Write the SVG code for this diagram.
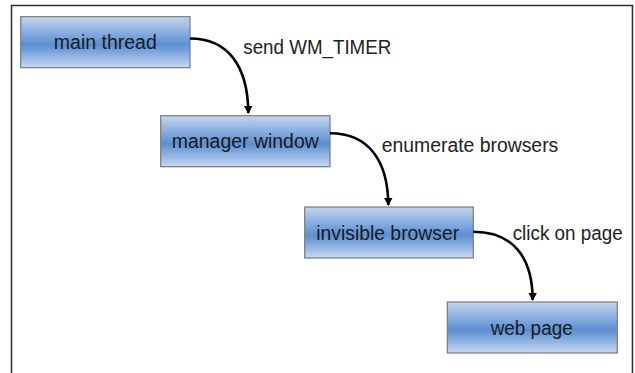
<svg xmlns="http://www.w3.org/2000/svg" width="635" height="373" viewBox="0 0 635 373">
  <defs>
    <linearGradient id="boxFill" x1="0" y1="0" x2="0" y2="1">
      <stop offset="0" stop-color="#c3d5ef"/>
      <stop offset="0.55" stop-color="#5b8fd3"/>
      <stop offset="1" stop-color="#c6d8f0"/>
    </linearGradient>
    <marker id="head" markerWidth="10" markerHeight="10" refX="7" refY="5" orient="auto" markerUnits="userSpaceOnUse">
      <path d="M0,0.8 L8,5 L0,9.2 Z" fill="#000"/>
    </marker>
    <style>
      .box { fill: url(#boxFill); stroke: #7a7a7a; stroke-width: 1.2; }
      .label { font-family: "Liberation Sans", Arial, sans-serif; font-size: 20px; fill: #222; }
      .node { font-family: "Liberation Sans", Arial, sans-serif; font-size: 20px; fill: #1a1a1a; text-anchor: middle; }
      .conn { fill: none; stroke: #000; stroke-width: 2.6; marker-end: url(#head); }
    </style>
  </defs>

  <rect width="635" height="373" fill="#fff"/>
  <!-- outer frame, open at the bottom -->
  <path d="M11.5,373 V5.5 H632.5 V373" fill="none" stroke="#333" stroke-width="1.6"/>

  <g id="main-thread">
    <rect class="box" x="20.7" y="16.7" width="169.3" height="51"/>
    <text class="node" x="105.3" y="49.3" textLength="103" lengthAdjust="spacingAndGlyphs">main thread</text>
  </g>

  <g id="manager-window">
    <rect class="box" x="160.7" y="115.7" width="169.3" height="51"/>
    <text class="node" x="245.3" y="148.3" textLength="147" lengthAdjust="spacingAndGlyphs">manager window</text>
  </g>

  <g id="invisible-browser">
    <rect class="box" x="304.7" y="207" width="168.6" height="51"/>
    <text class="node" x="387.7" y="240" textLength="143" lengthAdjust="spacingAndGlyphs">invisible browser</text>
  </g>

  <g id="web-page">
    <rect class="box" x="447.3" y="302" width="170" height="51"/>
    <text class="node" x="531.7" y="335" textLength="82" lengthAdjust="spacingAndGlyphs">web page</text>
  </g>

  <g id="connectors">
    <path class="conn" d="M190,38.5 C228,38.5 248,66 248.3,113"/>
    <path class="conn" d="M330,133.3 C368,133.3 388,160 388.3,205"/>
    <path class="conn" d="M473.3,231.7 C512,231.7 532.5,256 532.7,300"/>
    <text class="label" x="243.3" y="54" textLength="148" lengthAdjust="spacingAndGlyphs">send WM_TIMER</text>
    <text class="label" x="381.7" y="151.7" textLength="176.6" lengthAdjust="spacingAndGlyphs">enumerate browsers</text>
    <text class="label" x="512.7" y="240" textLength="110" lengthAdjust="spacingAndGlyphs">click on page</text>
  </g>
</svg>
